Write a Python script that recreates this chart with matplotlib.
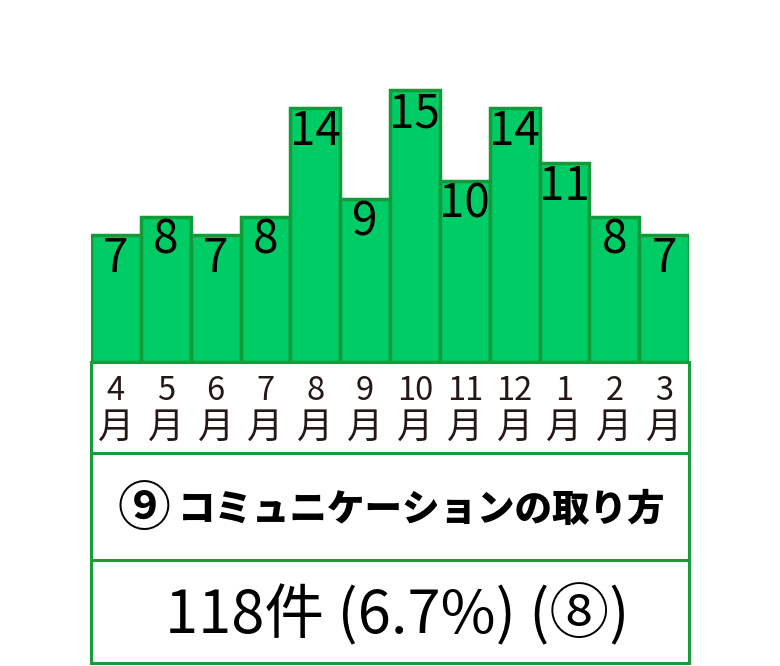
import matplotlib.pyplot as plt
from matplotlib.patches import Rectangle

# data
months = ['4', '5', '6', '7', '8', '9', '10', '11', '12', '1', '2', '3']
counts = [7, 8, 7, 8, 14, 9, 15, 10, 14, 11, 8, 7]
title_no = '⑨'
title = 'コミュニケーションの取り方'
summary = '118件 (6.7%) (⑧)'

plt.rcParams['font.family'] = ['Noto Sans CJK JP', 'DejaVu Sans']

W, H = 780, 666
fig = plt.figure(figsize=(W / 100, H / 100), dpi=100)

def px_axes(x0, y0, x1, y1):
    # pixel box (top-left origin) -> figure axes
    return fig.add_axes([x0 / W, 1 - y1 / H, (x1 - x0) / W, (y1 - y0) / H])

green = '#00cc66'
edge = '#139a3a'
frame = '#1a9b3c'

# bars
ax = px_axes(91, 0, 689, 362)
x = list(range(len(counts)))
ax.bar(x, counts, width=1.0, color=green, edgecolor=edge, linewidth=2.5)
ax.set_xlim(-0.5, len(counts) - 0.5)
ax.set_ylim(0, 15 * 362 / 272)
ax.axis('off')
unit = 272 / 15  # pixels per count
for i, v in enumerate(counts):
    ax.text(i, v - 37 / unit, str(v), ha='center', va='baseline', fontsize=33,
            color='black',
            fontfamily=['Liberation Sans Narrow', 'Noto Sans CJK JP'])

# table below (x in month cells, y in pixels from the top of the table)
tb = px_axes(91, 362, 689, 663)
tb.set_xlim(0, 12)
tb.set_ylim(301, 0)
tb.axis('off')
tb.add_patch(Rectangle((0, 0), 12, 301, fill=False, edgecolor=frame,
                       linewidth=2.2, clip_on=False))
tb.plot([0, 12], [91, 91], color=frame, linewidth=2.2)
tb.plot([0, 12], [198, 198], color=frame, linewidth=2.2)
for i, m in enumerate(months):
    tb.text(i + 0.5, 38, m, ha='center', va='baseline', fontsize=23.5,
            color='#231815')
    tb.text(i + 0.5, 76, '月', ha='center', va='baseline', fontsize=26,
            color='#231815')

cell = 598 / 12
tb.text((143.5 - 91) / cell, 148, title_no, ha='center', va='center',
        fontsize=38, fontweight='bold', color='black')
tb.text((178 - 91) / cell, 148, title, ha='left', va='center', fontsize=27,
        fontweight='heavy', color='black')
tb.text(6.15, 271, summary, ha='center', va='baseline', fontsize=43,
        color='black')

fig.savefig('out.png', dpi=100)
